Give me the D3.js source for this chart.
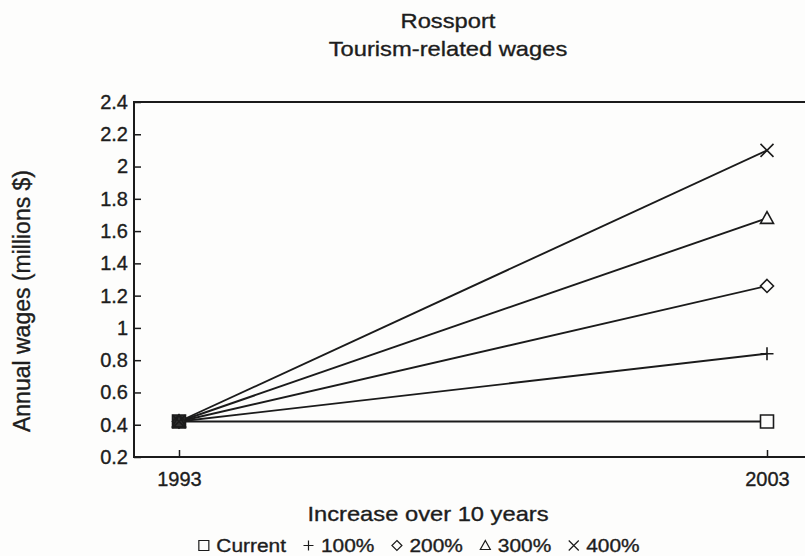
<!DOCTYPE html>
<html>
<head>
<meta charset="utf-8">
<script src="https://cdn.jsdelivr.net/npm/d3@7/dist/d3.min.js"></script>
<style>
  html, body { margin: 0; padding: 0; background: #fdfdfc; }
  svg { display: block; }
  text { font-family: "Liberation Sans", Arial, Helvetica, sans-serif; fill: #1d1d1d; stroke: #1d1d1d; stroke-width: 0.35px; }
</style>
</head>
<body>
<svg id="chart" width="805" height="556"></svg>
<script>
// Rossport tourism-related wages, projected growth over ten years
const years = [1993, 2003];
const seriesNames = ["Current", "100%", "200%", "300%", "400%"];
const wagesCurrent = [0.42, 0.42];
const wages100 = [0.42, 0.84];
const wages200 = [0.42, 1.26];
const wages300 = [0.42, 1.68];
const wages400 = [0.42, 2.10];
const yTickValues = [0.2, 0.4, 0.6, 0.8, 1, 1.2, 1.4, 1.6, 1.8, 2, 2.2, 2.4];
const yTickLabels = ["0.2", "0.4", "0.6", "0.8", "1", "1.2", "1.4", "1.6", "1.8", "2", "2.2", "2.4"];
const xTickLabels = ["1993", "2003"];
const titleLines = ["Rossport", "Tourism-related wages"];
const xTitle = "Increase over 10 years";
const yTitle = "Annual wages (millions $)";

const seriesValues = [wagesCurrent, wages100, wages200, wages300, wages400];
const seriesShapes = ["square", "plus", "diamond", "triangle", "cross"];

const ink = "#1b1b1b";
const SX = 1.13; // slightly wide lettering

const svg = d3.select("#chart");

const frame = { left: 134, right: 812, top: 102, bottom: 457 };

const x = d3.scaleLinear().domain([1993, 2003]).range([179, 767]);
const y = d3.scaleLinear().domain([0.2, 2.4]).range([frame.bottom, frame.top]);

function shapePath(kind, r) {
  switch (kind) {
    case "square":   return `M${-r},${-r}H${r}V${r}H${-r}Z`;
    case "plus":     return `M${-r},0H${r}M0,${-r}V${r}`;
    case "diamond":  return `M0,${-r}L${r},0L0,${r}L${-r},0Z`;
    case "triangle": return `M0,${-r}L${r},${r * 0.8}L${-r},${r * 0.8}Z`;
    case "cross":    return `M${-r},${-r}L${r},${r}M${r},${-r}L${-r},${r}`;
  }
}

function wideText(parent, px, py, str, size, anchor, sx) {
  return parent.append("text")
    .attr("transform", `translate(${px},${py}) scale(${sx},1)`)
    .attr("text-anchor", anchor)
    .style("font-size", size + "px")
    .text(str);
}

// Title
wideText(svg, 448, 28, titleLines[0], 21, "middle", SX);
wideText(svg, 448, 56, titleLines[1], 21, "middle", SX);

// Axes (ticks point inward)
const yAxis = d3.axisLeft(y)
  .tickValues(yTickValues)
  .tickFormat((d, i) => yTickLabels[i])
  .tickSizeInner(-7).tickSizeOuter(0).tickPadding(6);
const gy = svg.append("g").attr("transform", `translate(${frame.left},0)`).call(yAxis);
gy.select(".domain").remove();
gy.selectAll("line").attr("stroke", ink).attr("stroke-width", 1.5);
gy.selectAll("text").style("font-size", "20px").attr("fill", ink)
  .attr("font-family", "Liberation Sans, Arial, sans-serif");

const xAxis = d3.axisBottom(x)
  .tickValues(years)
  .tickFormat((d, i) => xTickLabels[i])
  .tickSizeInner(-7).tickSizeOuter(0).tickPadding(15);
const gx = svg.append("g").attr("transform", `translate(0,${frame.bottom})`).call(xAxis);
gx.select(".domain").remove();
gx.selectAll("line").attr("stroke", ink).attr("stroke-width", 1.5);
gx.selectAll("text").style("font-size", "20px").attr("fill", ink)
  .attr("font-family", "Liberation Sans, Arial, sans-serif");

// Frame: left, top, bottom
svg.append("path")
  .attr("d", `M${frame.right},${frame.top}H${frame.left}V${frame.bottom}H${frame.right}`)
  .attr("fill", "none").attr("stroke", ink).attr("stroke-width", 2);

// Series lines
const line = d3.line().x((d, i) => x(years[i])).y(d => y(d));
svg.append("g").selectAll("path")
  .data(seriesValues)
  .join("path")
  .attr("d", d => line(d))
  .attr("fill", "none").attr("stroke", ink).attr("stroke-width", 1.9);

// Markers: filled where they stack at the start year, open at the end year
seriesValues.forEach((vals, s) => {
  vals.forEach((v, i) => {
    const start = i === 0;
    svg.append("path")
      .attr("transform", `translate(${x(years[i])},${y(v)})`)
      .attr("d", shapePath(seriesShapes[s], 6.5))
      .attr("fill", start ? "#2f2f2f" : "#fdfdfc")
      .attr("stroke", ink)
      .attr("stroke-width", 1.6);
  });
});

// Axis titles
wideText(svg, 428, 521, xTitle, 21, "middle", SX);
svg.append("text")
  .attr("transform", "translate(30,301) rotate(-90)")
  .attr("text-anchor", "middle")
  .style("font-size", "23px")
  .text(yTitle);

// Legend
const legend = svg.append("g");
let cursor = 0;
const gap = 17;
seriesNames.forEach((name, s) => {
  const item = legend.append("g");
  item.append("path")
    .attr("transform", `translate(${cursor + 5.5},-6.5)`)
    .attr("d", shapePath(seriesShapes[s], 5))
    .attr("fill", "none").attr("stroke", ink).attr("stroke-width", 1.2);
  const t = wideText(item, cursor + 18, 0, name, 18.5, "start", SX);
  const w = t.node().getComputedTextLength() * SX;
  cursor += 18 + w + gap;
});
const legendWidth = cursor - gap;
legend.attr("transform", `translate(${419 - legendWidth / 2},552)`);
</script>
</body>
</html>
